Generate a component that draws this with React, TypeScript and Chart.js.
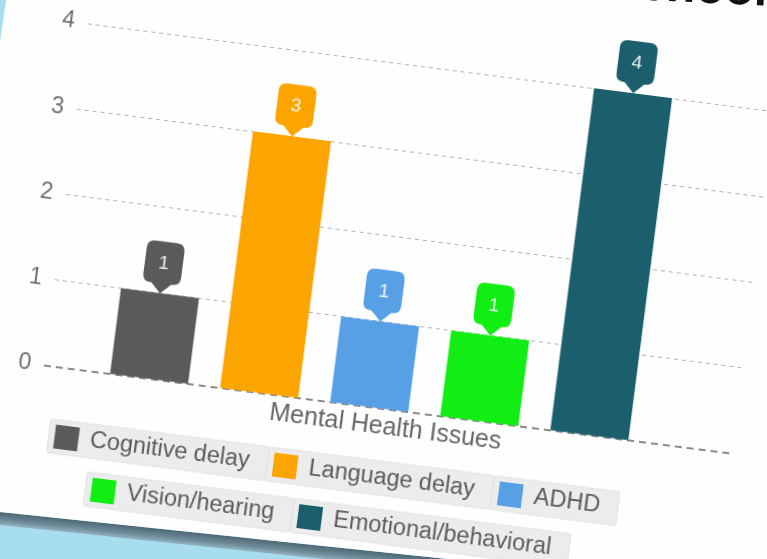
import React, { useEffect, useRef } from "react";
import { Chart, registerables } from "chart.js";

Chart.register(...registerables);

const categories = ["Cognitive delay", "Language delay", "ADHD", "Vision/hearing", "Emotional/behavioral"];
const values = [1, 3, 1, 1, 4];
const colors = ["#5a5a5a", "#fca400", "#57a0e6", "#12ee14", "#1b5e6c"];
const yTicks = [0, 1, 2, 3, 4];
const axisTitle = "Mental Health Issues";
const headline = "School";

const FONT = "'Liberation Sans', Arial, sans-serif";

function roundRectPath(ctx: CanvasRenderingContext2D, x: number, y: number, w: number, h: number, r: number) {
  ctx.beginPath();
  ctx.moveTo(x + r, y);
  ctx.lineTo(x + w - r, y);
  ctx.quadraticCurveTo(x + w, y, x + w, y + r);
  ctx.lineTo(x + w, y + h - r);
  ctx.quadraticCurveTo(x + w, y + h, x + w - r, y + h);
  ctx.lineTo(x + r, y + h);
  ctx.quadraticCurveTo(x, y + h, x, y + h - r);
  ctx.lineTo(x, y + r);
  ctx.quadraticCurveTo(x, y, x + r, y);
  ctx.closePath();
}

const zeroLinePlugin = {
  id: "zeroLine",
  beforeDatasetsDraw(chart: any) {
    const ctx: CanvasRenderingContext2D = chart.ctx;
    const y0 = chart.scales.y.getPixelForValue(0);
    const { left, right } = chart.chartArea;
    ctx.save();
    ctx.strokeStyle = "#8a8a8a";
    ctx.lineWidth = 1.8;
    ctx.setLineDash([7, 5]);
    ctx.beginPath();
    ctx.moveTo(left, y0);
    ctx.lineTo(right, y0);
    ctx.stroke();
    ctx.restore();
  },
};

const calloutPlugin = {
  id: "callouts",
  afterDatasetsDraw(chart: any) {
    const ctx: CanvasRenderingContext2D = chart.ctx;
    chart.data.datasets.forEach((ds: any, di: number) => {
      const meta = chart.getDatasetMeta(di);
      meta.data.forEach((bar: any, i: number) => {
        const x = bar.x;
        const y = bar.y;
        const w = 38, h = 42, tip = 10, r = 8, half = 10;
        const bottom = y - tip;
        const top = bottom - h;
        const l = x - w / 2, rt = x + w / 2;
        ctx.save();
        ctx.fillStyle = ds.backgroundColor;
        ctx.beginPath();
        ctx.moveTo(l + r, top);
        ctx.lineTo(rt - r, top);
        ctx.quadraticCurveTo(rt, top, rt, top + r);
        ctx.lineTo(rt, bottom - r);
        ctx.quadraticCurveTo(rt, bottom, rt - r, bottom);
        ctx.lineTo(x + half, bottom);
        ctx.lineTo(x, y);
        ctx.lineTo(x - half, bottom);
        ctx.lineTo(l + r, bottom);
        ctx.quadraticCurveTo(l, bottom, l, bottom - r);
        ctx.lineTo(l, top + r);
        ctx.quadraticCurveTo(l, top, l + r, top);
        ctx.closePath();
        ctx.fill();
        ctx.fillStyle = "rgba(255,255,255,0.9)";
        ctx.font = `19px ${FONT}`;
        ctx.textAlign = "center";
        ctx.textBaseline = "middle";
        ctx.fillText(String(ds.data[i].y), x, top + h / 2 + 1);
        ctx.restore();
      });
    });
  },
};

const legendBgPlugin = {
  id: "legendBg",
  beforeDraw(chart: any) {
    const lg = chart.legend;
    if (!lg || !lg.legendHitBoxes) return;
    const ctx: CanvasRenderingContext2D = chart.ctx;
    ctx.save();
    lg.legendHitBoxes.forEach((hb: any) => {
      roundRectPath(ctx, hb.left - 6, hb.top - 5, hb.width + 24, hb.height + 10, 2);
      ctx.fillStyle = "#ececec";
      ctx.fill();
      ctx.strokeStyle = "#e0e0e0";
      ctx.lineWidth = 1;
      ctx.stroke();
    });
    ctx.restore();
  },
};

export default function App() {
  const canvasRef = useRef<HTMLCanvasElement | null>(null);

  useEffect(() => {
    if (!canvasRef.current) return;
    const datasets = categories.map((c, i) => ({
      label: c,
      data: [{ x: i, y: values[i] }],
      backgroundColor: colors[i],
      borderWidth: 0,
      barThickness: 78,
      grouped: false,
    }));
    const chart = new Chart(canvasRef.current, {
      type: "bar",
      data: { datasets } as any,
      options: {
        responsive: false,
        animation: false,
        layout: { padding: { top: 58, left: 0, right: 0, bottom: 0 } },
        scales: {
          x: {
            type: "linear",
            min: -0.955,
            max: 5.29,
            offset: false,
            grid: { display: false, drawTicks: false },
            ticks: { display: false },
            border: { display: false },
            title: {
              display: true,
              text: axisTitle,
              color: "#666666",
              font: { family: FONT, size: 25 },
              padding: { top: 3, bottom: 0 },
            },
          },
          y: {
            min: 0,
            max: 4,
            afterBuildTicks: (s: any) => {
              s.ticks = yTicks.map((v) => ({ value: v }));
            },
            afterFit: (s: any) => {
              s.width = 104;
            },
            ticks: { color: "#707070", font: { family: FONT, size: 23 }, padding: 13 },
            grid: {
              color: (c: any) => (c.tick && c.tick.value === 0 ? "rgba(0,0,0,0)" : "#b2b2b2"),
              lineWidth: 1,
              drawTicks: false,
            },
            border: { display: false, dash: [4, 4] },
          },
        },
        plugins: {
          legend: {
            position: "bottom",
            labels: {
              boxWidth: 24,
              boxHeight: 24,
              padding: 24,
              color: "#5c5c5c",
              font: { family: FONT, size: 23.5 },
            },
          },
          tooltip: { enabled: false },
        },
      } as any,
      plugins: [zeroLinePlugin, calloutPlugin, legendBgPlugin],
    });
    return () => chart.destroy();
  }, []);

  return (
    <div
      style={{
        position: "fixed",
        left: 0,
        top: 0,
        width: 767,
        height: 559,
        overflow: "hidden",
        background: "#a8dcef",
      }}
    >
      <div
        style={{
          position: "absolute",
          left: 0,
          top: 512,
          width: 900,
          height: 13,
          transformOrigin: "0 0",
          transform: "rotate(6deg)",
          background: "linear-gradient(to bottom, #4d6673, #6f8b99 60%, #93b3c2)",
        }}
      />
      <div
        style={{
          position: "absolute",
          left: 0,
          top: 0,
          width: 767,
          height: 559,
          background: "#fefefe",
          clipPath: "polygon(6px 0, 767px 0, 767px 559px, 448px 559px, 0 512px, 0 42px)",
        }}
      />
      <div
        style={{
          position: "absolute",
          left: 607,
          top: -42,
          fontFamily: FONT,
          fontWeight: "bold",
          fontSize: 48,
          lineHeight: "48px",
          color: "#111",
          whiteSpace: "nowrap",
          transformOrigin: "0 41px",
          transform: "rotate(2.7deg)",
        }}
      >
        {headline}
      </div>
      <div
        style={{
          position: "absolute",
          left: 0,
          top: 0,
          width: 767,
          height: 559,
          transformOrigin: "0 0",
          transform: "rotate(7.3deg)",
        }}
      >
        <canvas
          ref={canvasRef}
          width={797}
          height={542}
          style={{ position: "absolute", left: -14, top: -46, width: 797, height: 542, display: "block" }}
        />
      </div>
    </div>
  );
}
